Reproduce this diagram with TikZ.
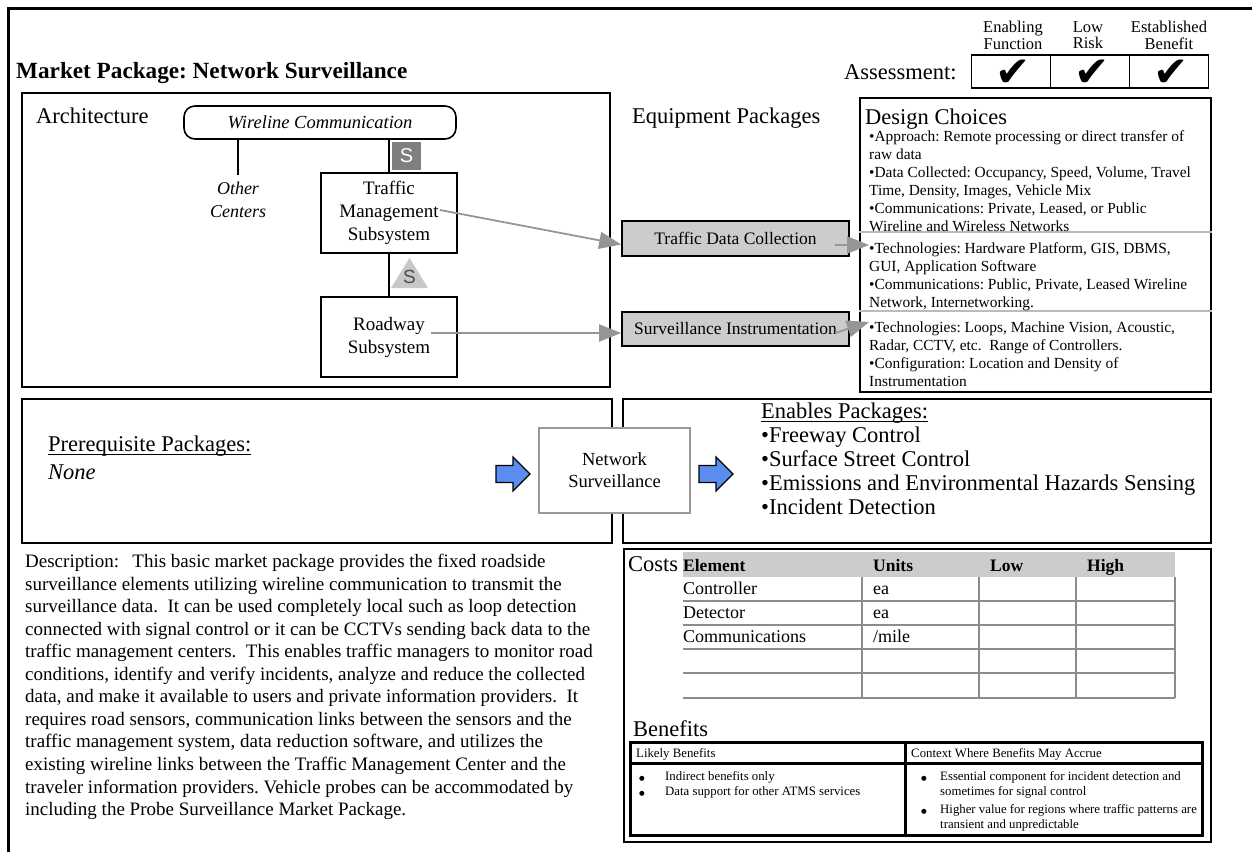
\documentclass[tikz,border=0pt]{standalone}
\usepackage{fontspec}
\setmainfont{Liberation Serif}
\newfontfamily\sfS{Liberation Sans}
\newfontfamily\symS{DejaVu Sans}
\usetikzlibrary{arrows.meta}
\frenchspacing
\definecolor{pkggray}{HTML}{CCCCCC}
\definecolor{arrowgray}{HTML}{959595}
\definecolor{linegray}{HTML}{8C8C8C}
\definecolor{sepgray}{HTML}{BBBBBB}
\definecolor{sqgray}{HTML}{7F7F7F}
\definecolor{trigray}{HTML}{C8C8C8}
\definecolor{nsgray}{HTML}{999999}
\definecolor{pkgblue}{HTML}{5B8DF0}
\newcommand{\setfs}[2]{\fontsize{#1}{#2}\selectfont}
\newcommand{\pkgarrow}[1]{%
  \draw[blockarrow,shift={#1}] (0,-8.5) -- (17,-8.5) -- (17,-17) -- (34,0)
    -- (17,17) -- (17,8.5) -- (0,8.5) -- cycle;}
\newcommand{\benbul}{{\symS\setfs{6.5}{14.5}●}}
\tikzset{
  frame/.style={draw, line width=1.6pt},
  heading/.style={anchor=base west, inner sep=0, font=\setfs{22.5}{24}},
  subsys/.style={frame, align=center, font=\setfs{19}{23},
    minimum width=136pt, minimum height=80pt, inner sep=0},
  pkgbox/.style={frame, fill=pkggray, font=\setfs{17.5}{21},
    minimum width=227pt, inner sep=0},
  dctext/.style={anchor=north west, inner sep=0, align=left, font=\setfs{15.4}{18}},
  tabtext/.style={anchor=base west, inner sep=0, font=\setfs{18}{20}},
  tabhead/.style={anchor=base west, inner sep=0, font=\bfseries\setfs{17.5}{20}},
  bentext/.style={anchor=north west, inner sep=0, align=left, font=\setfs{12.8}{14.5}},
  checkmark/.style={inner sep=0, font=\symS\setfs{42}{42}},
  garrow/.style={draw=arrowgray, line width=1.8pt, -{Triangle[length=22pt,width=17pt]}},
  tabline/.style={draw=linegray, line width=1.8pt},
  blockarrow/.style={draw=black, line width=1.2pt, fill=pkgblue, line join=miter},
  uline/.style={line width=0.9pt},
}

\begin{document}
\begin{tikzpicture}[x=1pt,y=-1pt]
  \useasboundingbox (0,0) rectangle (1252,852);
  \draw[line width=3pt] (8,852) -- (8,8) -- (1252,8);

  \node[anchor=base west, inner sep=0, font=\bfseries\setfs{23.2}{26}] (title) at (16,78)
    {Market Package: Network Surveillance};

  % assessment
  \node[heading] (assess) at (844,79) {Assessment:};
  \node[frame, minimum width=79pt, minimum height=33pt] (cellA) at (1011,71.5) {};
  \node[frame, minimum width=79pt, minimum height=33pt] (cellB) at (1090,71.5) {};
  \node[frame, minimum width=79pt, minimum height=33pt] (cellC) at (1169,71.5) {};
  \node[checkmark] (chkA) at (1013,73) {✔};
  \node[checkmark] (chkB) at (1092,73) {✔};
  \node[checkmark] (chkC) at (1171,73) {✔};
  \node[anchor=north, inner sep=0, align=center, font=\setfs{16.5}{16.5}] (hdA) at (1013,21) {Enabling\\Function};
  \node[anchor=north, inner sep=0, align=center, font=\setfs{16.5}{16.5}] (hdB) at (1088,21) {Low\\Risk};
  \node[anchor=north, inner sep=0, align=center, font=\setfs{16.5}{16.5}] (hdC) at (1169,21) {Established\\Benefit};

  % architecture
  \node[frame, minimum width=588pt, minimum height=294pt] (arch) at (316,240) {};
  \node[heading] (archlbl) at (36,123.5) {Architecture};
  \node[frame, rounded corners=11pt, minimum width=272pt, minimum height=33pt,
    font=\itshape\setfs{18.5}{22}] (wire) at (320,122.5) {Wireline Communication};
  \node[subsys] (tms) at (389,213) {Traffic\\Management\\Subsystem};
  \node[subsys] (rs) at (389,337) {Roadway\\Subsystem};
  \node[inner ysep=7pt, inner xsep=0, align=center, font=\itshape\setfs{18}{23}] (othc) at (238,200) {Other\\Centers};
  \draw[line width=1.6pt] (othc.north |- wire.south) -- (othc.north);
  \draw[line width=1.6pt] (tms.north |- wire.south) -- (tms.north);
  \draw[line width=1.6pt] (tms.south) -- (rs.north);
  \node[fill=sqgray, text=white, minimum width=29pt, minimum height=28pt, inner sep=0,
    font=\sfS\setfs{20}{20}] (sqS) at (406.5,156) {S};
  \fill[trigray] (391,288) -- (428,288) -- (409.5,258) -- cycle;
  \node[inner sep=0, text=black!70, font=\sfS\setfs{19}{19}] (triS) at (409.5,277) {S};

  % equipment packages
  \node[heading] (eqlbl) at (632,123.5) {Equipment Packages};
  \node[pkgbox, minimum height=35pt] (tdc) at (735.5,238.5) {Traffic Data Collection};
  \node[pkgbox, minimum height=34pt] (si) at (735.5,329) {Surveillance Instrumentation};
  \coordinate (tmsport) at (440,210);
  \coordinate (rsport) at (431,333);
  \draw[garrow] (tmsport) -- ([yshift=-6pt]tdc.west);
  \draw[garrow] (rsport) -- ([yshift=-4pt]si.west);

  % design choices
  \node[frame, minimum width=351pt, minimum height=294pt] (dc) at (1035.5,245) {};
  \draw[sepgray, line width=1.5pt] (dc.west |- 0,232) -- (dc.east |- 0,232);
  \draw[sepgray, line width=1.5pt] (dc.west |- 0,311) -- (dc.east |- 0,311);
  \node[heading] (dclbl) at (865,124.5) {Design Choices};
  \node[dctext] (dcA) at (869,130) {•Approach: Remote processing or direct transfer of\\
    raw data\\
    •Data Collected: Occupancy, Speed, Volume, Travel\\
    Time, Density, Images, Vehicle Mix\\
    •Communications: Private, Leased, or Public\\
    Wireline and Wireless Networks};
  \node[dctext] (dcB) at (869,242) {•Technologies: Hardware Platform, GIS, DBMS,\\
    GUI, Application Software\\
    •Communications: Public, Private, Leased Wireline\\
    Network, Internetworking.};
  \node[dctext] (dcC) at (869,322) {•Technologies: Loops, Machine Vision, Acoustic,\\
    Radar, CCTV, etc.\ \ Range of Controllers.\\
    •Configuration: Location and Density of\\
    Instrumentation};
  \coordinate (tdcport) at (835,245);
  \coordinate (siport) at (835,333);
  \coordinate (dcinA) at (869,245);
  \coordinate (dcinC) at (869,322);
  \draw[garrow] (tdcport) -- (dcinA);
  \draw[garrow] (siport) -- (dcinC);

  % prerequisites and enabled packages
  \node[frame, minimum width=590pt, minimum height=144pt] (prereq) at (317,471) {};
  \node[frame, minimum width=588pt, minimum height=144pt] (enables) at (917,471) {};
  \node[heading] (prelbl) at (48,451.5) {Prerequisite Packages:};
  \draw[uline] ([yshift=-2.5pt]prelbl.base west) -- ([yshift=-2.5pt]prelbl.base east);
  \node[heading, font=\itshape\setfs{22.5}{24}] (none) at (48,479.5) {None};
  \node[draw=nsgray, line width=1.3pt, fill=white, minimum width=151pt, minimum height=85pt,
    inner sep=0, align=center, font=\setfs{18.5}{22}] (ns) at (614.5,470.5) {Network\\Surveillance};
  \pkgarrow{(496,474)}
  \pkgarrow{(699,474)}
  \node[heading] (enlbl) at (761,418.5) {Enables Packages:};
  \draw[uline] ([yshift=-2.5pt]enlbl.base west) -- ([yshift=-2.5pt]enlbl.base east);
  \node[anchor=north west, inner sep=0, align=left, font=\setfs{22.5}{24}] (enlist) at (761,427.1)
    {•Freeway Control\\•Surface Street Control\\•Emissions and Environmental Hazards Sensing\\•Incident Detection};

  % description
  \node[anchor=north west, inner sep=0, align=left, font=\setfs{19}{22.55}] (desc) at (25,554)
    {Description:\hspace{0.7em}This basic market package provides the fixed roadside\\
    surveillance elements utilizing wireline communication to transmit the\\
    surveillance data.\ \ It can be used completely local such as loop detection\\
    connected with signal control or it can be CCTVs sending back data to the\\
    traffic management centers.\ \ This enables traffic managers to monitor road\\
    conditions, identify and verify incidents, analyze and reduce the collected\\
    data, and make it available to users and private information providers.\ \ It\\
    requires road sensors, communication links between the sensors and the\\
    traffic management system, data reduction software, and utilizes the\\
    existing wireline links between the Traffic Management Center and the\\
    traveler information providers. Vehicle probes can be accommodated by\\
    including the Probe Surveillance Market Package.};

  % costs
  \node[frame, minimum width=587pt, minimum height=293pt] (costs) at (917.5,695.5) {};
  \node[heading] (costlbl) at (628,571.5) {Costs};
  \fill[pkggray] (683,552) rectangle (1175,577);
  \draw[tabline] (683,601) -- (1175,601);
  \draw[tabline] (683,625) -- (1175,625);
  \draw[tabline] (683,649) -- (1175,649);
  \draw[tabline] (683,673) -- (1175,673);
  \draw[tabline] (683,698) -- (1175,698);
  \draw[tabline] (862,577) -- (862,698);
  \draw[tabline] (979,577) -- (979,698);
  \draw[tabline] (1076,577) -- (1076,698);
  \draw[tabline] (1175,577) -- (1175,698);
  \node[tabhead] (hElem) at (683,571) {Element};
  \node[tabhead] (hUnit) at (873,571) {Units};
  \node[tabhead] (hLow) at (990,571) {Low};
  \node[tabhead] (hHigh) at (1087,571) {High};
  \node[tabtext] (rCtrl) at (683,594) {Controller};
  \node[tabtext] (uCtrl) at (873,594) {ea};
  \node[tabtext] (rDet) at (683,618) {Detector};
  \node[tabtext] (uDet) at (873,618) {ea};
  \node[tabtext] (rComm) at (683,642) {Communications};
  \node[tabtext] (uComm) at (873,642) {/mile};

  % benefits
  \node[heading] (benlbl) at (633,736.5) {Benefits};
  \draw[line width=3pt] (630,742) rectangle (1202,835);
  \draw[line width=3pt] (630,763) -- (1202,763);
  \draw[line width=3pt] (905,742) -- (905,835);
  \node[anchor=base west, inner sep=0, font=\setfs{12.8}{14.5}] (likely) at (636,757) {Likely Benefits};
  \node[anchor=base west, inner sep=0, font=\setfs{12.8}{14.5}] (context) at (911,757) {Context Where Benefits May Accrue};
  \node[anchor=base west, inner sep=0] (bulA) at (639,780.5) {\benbul};
  \node[anchor=base west, inner sep=0] (bulB) at (639,795) {\benbul};
  \node[bentext] (likA) at (665,771.5) {Indirect benefits only\\Data support for other ATMS services};
  \node[anchor=base west, inner sep=0] (bulC) at (921,780.5) {\benbul};
  \node[bentext] (ctxA) at (940,771.5) {Essential component for incident detection and\\sometimes for signal control};
  \node[anchor=base west, inner sep=0] (bulD) at (921,813.5) {\benbul};
  \node[bentext] (ctxB) at (940,804.5) {Higher value for regions where traffic patterns are\\transient and unpredictable};
\end{tikzpicture}
\end{document}
